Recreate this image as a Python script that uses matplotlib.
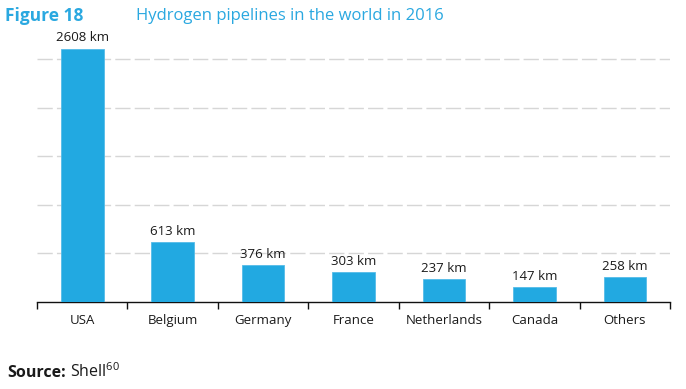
import numpy as np
import matplotlib
matplotlib.use('Agg')
import matplotlib.pyplot as plt

# Data
countries = ['USA', 'Belgium', 'Germany', 'France', 'Netherlands', 'Canada', 'Others']
length_km = [2608, 613, 376, 303, 237, 147, 258]
grid_levels = [500, 1000, 1500, 2000, 2500]

blue = '#22a9e1'
title_blue = '#2aa8e0'
text_dark = '#1a1a1a'

plt.rcParams['font.family'] = ['Open Sans', 'DejaVu Sans']
plt.rcParams['mathtext.fontset'] = 'custom'
plt.rcParams['mathtext.rm'] = 'Open Sans'


def draw_bars(ax):

    x = np.arange(len(countries))
    bars = ax.bar(x, length_km, width=0.47, color=blue,
                  edgecolor='#55bce8', linewidth=0.6, zorder=3)

    # value labels above each bar
    for b, v in zip(bars, length_km):
        ax.annotate(f'{v} km', (b.get_x() + b.get_width() / 2, v),
                    xytext=(0, 3), textcoords='offset points',
                    ha='center', va='bottom', fontsize=9.5,
                    color=text_dark, clip_on=False)

    # dashed grid lines
    for g in grid_levels:
        ax.axhline(g, color='#d6d6d6', lw=1.0, dashes=(11, 3), zorder=1)

    return ax


def style_axes(ax):

    n = len(countries)
    ax.set_xlim(-0.5, n - 0.5)
    ax.set_ylim(0, 2800)

    for s in ['top', 'right', 'left']:
        ax.spines[s].set_visible(False)
    ax.spines['bottom'].set_linewidth(1.0)
    ax.spines['bottom'].set_color('#111111')

    ax.set_yticks([])

    # boundary ticks (major) and centred labels (minor)
    ax.set_xticks(np.arange(n + 1) - 0.5)
    ax.set_xticklabels([])
    ax.tick_params(axis='x', which='major', length=5, width=1.0,
                   color='#111111', direction='out')
    ax.set_xticks(np.arange(n), minor=True)
    ax.set_xticklabels(countries, minor=True, fontsize=9.5, color=text_dark)
    ax.tick_params(axis='x', which='minor', length=0, pad=9)

    return ax


fig = plt.figure(figsize=(6.86, 3.89), dpi=100, facecolor='white')
ax = fig.add_axes([0.054, 0.2244, 0.923, 0.6985])

draw_bars(ax)
style_axes(ax)

# heading
fig.text(0.007, 0.958, 'Figure 18', fontsize=12.5, fontweight='bold',
         color=title_blue, va='center', ha='left')
fig.text(0.198, 0.958, 'Hydrogen pipelines in the world in 2016', fontsize=12,
         color=title_blue, va='center', ha='left')

# source note: bold label, then regular text placed right after it
t1 = fig.text(0.011, 0.031, 'Source:', fontsize=11.5, fontweight='bold',
              color=text_dark, va='baseline', ha='left')
fig.canvas.draw()
bb = t1.get_window_extent()
fig.text(bb.x1 / fig.bbox.width + 0.006, 0.031, 'Shell$^{60}$', fontsize=11.5,
         color=text_dark, va='baseline', ha='left')

fig.savefig('out.png', dpi=100)
